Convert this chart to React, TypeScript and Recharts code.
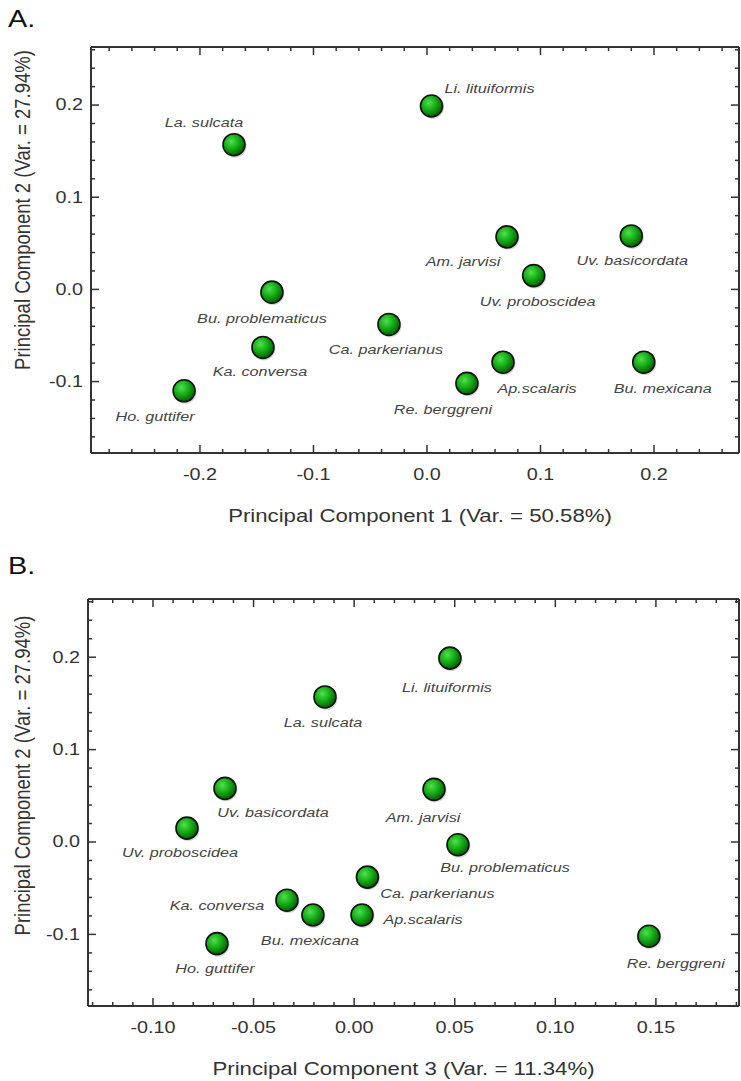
import { ScatterChart, Scatter, XAxis, YAxis, Label } from 'recharts';

// species scores on the first three principal components
const species = [
  'La. sulcata',
  'Li. lituiformis',
  'Am. jarvisi',
  'Uv. basicordata',
  'Uv. proboscidea',
  'Bu. problematicus',
  'Ca. parkerianus',
  'Ka. conversa',
  'Bu. mexicana',
  'Ap.scalaris',
  'Ho. guttifer',
  'Re. berggreni',
];
const pc1 = [-0.170, 0.004, 0.0705, 0.180, 0.094, -0.1366, -0.0335, -0.1445, 0.191, 0.067, -0.214, 0.0352];
const pc2 = [0.157, 0.199, 0.057, 0.058, 0.015, -0.003, -0.038, -0.063, -0.079, -0.079, -0.110, -0.102];
const pc3 = [-0.0145, 0.0476, 0.0397, -0.0642, -0.0831, 0.0516, 0.0066, -0.0334, -0.0205, 0.0039, -0.0682, 0.1465];

const pc1Ticks = [-0.2, -0.1, 0, 0.1, 0.2];
const pc2Ticks = [-0.1, 0, 0.1, 0.2];
const pc3Ticks = [-0.1, -0.05, 0, 0.05, 0.1, 0.15];

const FONT = '"Liberation Sans", Arial, sans-serif';
const SX = 1.2; // source figure is stretched horizontally

// label offsets (dx, dy) from the marker centre
const placeA: Record<string, [number, number]> = {
  'La. sulcata': [-30, -22],
  'Li. lituiformis': [58, -18],
  'Am. jarvisi': [-44, 25],
  'Uv. basicordata': [1, 25],
  'Uv. proboscidea': [4, 26],
  'Bu. problematicus': [-10, 26],
  'Ca. parkerianus': [-3, 25],
  'Ka. conversa': [-3, 24],
  'Bu. mexicana': [19, 26],
  'Ap.scalaris': [34, 26],
  'Ho. guttifer': [-29, 26],
  'Re. berggreni': [-24, 26],
};
const placeB: Record<string, [number, number]> = {
  'La. sulcata': [-2, 26],
  'Li. lituiformis': [-3, 29],
  'Am. jarvisi': [-11, 28],
  'Uv. basicordata': [48, 24],
  'Uv. proboscidea': [-7, 24],
  'Bu. problematicus': [47, 23],
  'Ca. parkerianus': [70, 16],
  'Ka. conversa': [-70, 5],
  'Bu. mexicana': [-3, 25],
  'Ap.scalaris': [61, 4],
  'Ho. guttifer': [-2, 25],
  'Re. berggreni': [27, 27],
};

function steps(from: number, to: number, step: number) {
  const out: number[] = [];
  const n = Math.round((to - from) / step);
  for (let i = 0; i <= n; i++) out.push(Math.round((from + i * step) * 1000) / 1000);
  return out;
}

const pointsA = species.map((name, i) => ({ name, x: pc1[i], y: pc2[i] }));
const pointsB = species.map((name, i) => ({ name, x: pc3[i], y: pc2[i] }));

function StretchText({ x, y, size, anchor = 'middle', italic = false, rotate = false, fill = '#333', children }: any) {
  return (
    <text
      transform={`translate(${x} ${y}) scale(${SX} 1)${rotate ? ' rotate(-90)' : ''}`}
      textAnchor={anchor}
      dominantBaseline="central"
      fontSize={size}
      fontStyle={italic ? 'italic' : 'normal'}
      fontFamily={FONT}
      fill={fill}
    >
      {children}
    </text>
  );
}

const makeTick = (side: string, major: number[], fmt?: (v: number) => string, gap = 0) => (props: any) => {
  const { x, y, payload } = props;
  const v = payload.value;
  const isMajor = major.some((m) => Math.abs(m - v) < 1e-6);
  const len = isMajor ? 8 : 4;
  let line;
  if (side === 'bottom') line = <line x1={x} x2={x} y1={y} y2={y - len} />;
  else if (side === 'top') line = <line x1={x} x2={x} y1={y} y2={y + len} />;
  else if (side === 'left') line = <line x1={x} x2={x + len} y1={y} y2={y} />;
  else line = <line x1={x} x2={x - len} y1={y} y2={y} />;
  return (
    <g>
      <g stroke="#333" strokeWidth={1.5}>{line}</g>
      {fmt && isMajor && side === 'bottom' && (
        <StretchText x={x} y={y + gap} size={16.5}>{fmt(v)}</StretchText>
      )}
      {fmt && isMajor && side === 'left' && (
        <StretchText x={x - gap} y={y} size={16.5} anchor="end">{fmt(v)}</StretchText>
      )}
    </g>
  );
};

const renderBall = (place: Record<string, [number, number]>) => (props: any) => {
  const { cx, cy, payload } = props;
  const [dx, dy] = place[payload.name];
  return (
    <g>
      <circle cx={cx + 1} cy={cy + 1.5} r={11.5} fill="rgba(0,0,0,0.15)" />
      <circle cx={cx} cy={cy} r={11} fill="url(#pcaBall)" stroke="#111" strokeWidth={1.6} />
      <StretchText x={cx + dx} y={cy + dy} size={13.5} italic fill="#444">{payload.name}</StretchText>
    </g>
  );
};

const noShape = () => <g />;

interface PanelProps {
  top: number;
  height: number;
  margin: { top: number; right: number; bottom: number; left: number };
  yAxisWidth: number;
  xAxisHeight: number;
  data: Array<{ name: string; x: number; y: number }>;
  xDomain: [number, number];
  xMajor: number[];
  xMinor: number[];
  xFmt: (v: number) => string;
  xTitle: string;
  xTitleShift: number;
  yTitleShift: number;
  place: Record<string, [number, number]>;
}

const yDomain: [number, number] = [-0.1775, 0.263];
const yMinor = steps(-0.16, 0.26, 0.02);
const axisLine = { stroke: '#333', strokeWidth: 2 };

function PcaPanel(p: PanelProps) {
  return (
    <div style={{ position: 'absolute', left: 0, top: p.top }}>
      <ScatterChart width={741} height={p.height} margin={p.margin}>
        <XAxis
          type="number"
          dataKey="x"
          domain={p.xDomain}
          allowDataOverflow
          ticks={p.xMinor}
          interval={0}
          tickSize={0}
          tickMargin={0}
          tickLine={false}
          axisLine={axisLine}
          height={p.xAxisHeight}
          tick={makeTick('bottom', p.xMajor, p.xFmt, 22)}
        >
          <Label
            content={(lp: any) => {
              const vb = lp.viewBox;
              return (
                <StretchText x={vb.x + vb.width / 2 + p.xTitleShift} y={vb.y + 63} size={18.5}>
                  {p.xTitle}
                </StretchText>
              );
            }}
          />
        </XAxis>
        <XAxis
          xAxisId="top"
          orientation="top"
          type="number"
          dataKey="x"
          domain={p.xDomain}
          allowDataOverflow
          ticks={p.xMinor}
          interval={0}
          tickSize={0}
          tickMargin={0}
          tickLine={false}
          axisLine={axisLine}
          height={1}
          tick={makeTick('top', p.xMajor)}
        />
        <YAxis
          type="number"
          dataKey="y"
          domain={yDomain}
          allowDataOverflow
          ticks={yMinor}
          interval={0}
          tickSize={0}
          tickMargin={0}
          tickLine={false}
          axisLine={axisLine}
          width={p.yAxisWidth}
          tick={makeTick('left', pc2Ticks, (v) => v.toFixed(1), 8)}
        >
          <Label
            content={(lp: any) => {
              const vb = lp.viewBox;
              return (
                <StretchText x={22} y={vb.y + vb.height / 2 + p.yTitleShift} size={18.5} rotate>
                  Principal Component 2 (Var. = 27.94%)
                </StretchText>
              );
            }}
          />
        </YAxis>
        <YAxis
          yAxisId="right"
          orientation="right"
          type="number"
          dataKey="y"
          domain={yDomain}
          allowDataOverflow
          ticks={yMinor}
          interval={0}
          tickSize={0}
          tickMargin={0}
          tickLine={false}
          axisLine={axisLine}
          width={1}
          tick={makeTick('right', pc2Ticks)}
        />
        <Scatter data={p.data} shape={renderBall(p.place)} isAnimationActive={false} />
        <Scatter data={p.data} xAxisId="top" yAxisId="right" shape={noShape} isAnimationActive={false} />
      </ScatterChart>
    </div>
  );
}

const panelLetter = (top: number): React.CSSProperties => ({
  position: 'absolute',
  left: 8,
  top,
  fontFamily: FONT,
  fontSize: 24,
  lineHeight: '24px',
  color: '#111',
  transform: `scaleX(${SX})`,
  transformOrigin: 'left center',
});

export default function App() {
  return (
    <div style={{ position: 'absolute', left: 0, top: 0, width: 741, height: 1081, background: '#fff' }}>
      <svg width={0} height={0} style={{ position: 'absolute' }}>
        <defs>
          <radialGradient id="pcaBall" cx="38%" cy="35%" r="68%">
            <stop offset="0%" stopColor="#4fe04f" />
            <stop offset="50%" stopColor="#14ac14" />
            <stop offset="100%" stopColor="#045a04" />
          </radialGradient>
        </defs>
      </svg>
      <div style={panelLetter(7)}>A.</div>
      <PcaPanel
        top={0}
        height={545}
        margin={{ top: 46, right: 1, bottom: 12, left: 0 }}
        yAxisWidth={91}
        xAxisHeight={80}
        data={pointsA}
        xDomain={[-0.296, 0.2749]}
        xMajor={pc1Ticks}
        xMinor={steps(-0.28, 0.26, 0.02)}
        xFmt={(v) => v.toFixed(1)}
        xTitle="Principal Component 1 (Var. = 50.58%)"
        xTitleShift={5}
        yTitleShift={-40}
        place={placeA}
      />
      <div style={panelLetter(554)}>B.</div>
      <PcaPanel
        top={550}
        height={531}
        margin={{ top: 48, right: 1, bottom: 5, left: 0 }}
        yAxisWidth={88}
        xAxisHeight={70}
        data={pointsB}
        xDomain={[-0.1323, 0.1913]}
        xMajor={pc3Ticks}
        xMinor={steps(-0.13, 0.19, 0.01)}
        xFmt={(v) => v.toFixed(2)}
        xTitle="Principal Component 3 (Var. = 11.34%)"
        xTitleShift={-10}
        yTitleShift={-27}
        place={placeB}
      />
    </div>
  );
}
